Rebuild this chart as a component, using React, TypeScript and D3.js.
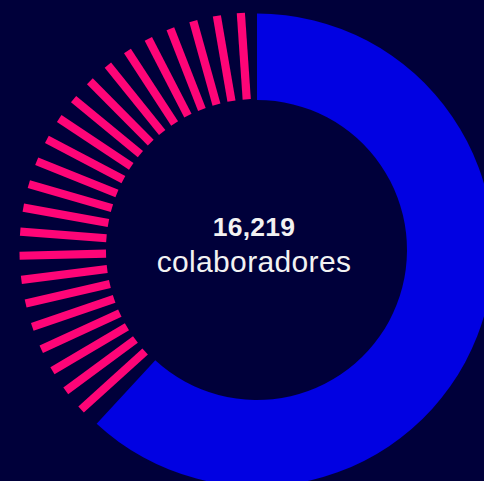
import React from "react";
import * as d3 from "d3";

// Data
const segments = ["azul", "rosa"];
const values = [10033, 6186];
const stripeCount = 23;
const centerLabel = "colaboradores";

// Layout / style
const W = 484;
const H = 481;
const cx = 257;
const cy = 250;
const innerR = 150;
const outerR = 236.5;
const stripeInner = 151;
const stripeOuter = 237.5;
const stripeWidth = 8.2;
const padStartDeg = 5.1;
const padEndDeg = 3.9;
const colors: Record<string, string> = { azul: "#0101e2", rosa: "#fe0577" };
const bg = "#00003a";

export default function App() {
  const pie = d3
    .pie<number>()
    .sort(null)
    .value((d) => d)(values);
  const arc = d3
    .arc<d3.PieArcDatum<number>>()
    .innerRadius(innerR)
    .outerRadius(outerR);
  const toRad = Math.PI / 180;
  const pink = pie[1];
  const angle = d3
    .scaleLinear()
    .domain([0, stripeCount - 1])
    .range([pink.endAngle - padEndDeg * toRad, pink.startAngle + padStartDeg * toRad]);
  const total = d3.format(",")(d3.sum(values));

  return (
    <svg
      width={W}
      height={H}
      style={{ position: "absolute", left: 0, top: 0, display: "block" }}
    >
      <rect x={0} y={0} width={W} height={H} fill={bg} />
      <g transform={`translate(${cx},${cy})`}>
        <path d={arc(pie[0]) || ""} fill={colors[segments[0]]} />
        {d3.range(stripeCount).map((i) => (
          <rect
            key={i}
            transform={`rotate(${angle(i) / toRad})`}
            x={-stripeWidth / 2}
            y={-stripeOuter}
            width={stripeWidth}
            height={stripeOuter - stripeInner}
            fill={colors[segments[1]]}
          />
        ))}
      </g>
      <text
        x={254}
        y={236}
        textAnchor="middle"
        fill="#f2f2f2"
        fontFamily="'Liberation Sans', Arial, sans-serif"
        fontWeight={700}
        fontSize={26.5}
        letterSpacing={0.2}
      >
        {total}
      </text>
      <text
        x={254}
        y={272}
        textAnchor="middle"
        fill="#f2f2f2"
        fontFamily="'Liberation Sans', Arial, sans-serif"
        fontSize={30}
        letterSpacing={0.35}
      >
        {centerLabel}
      </text>
    </svg>
  );
}
